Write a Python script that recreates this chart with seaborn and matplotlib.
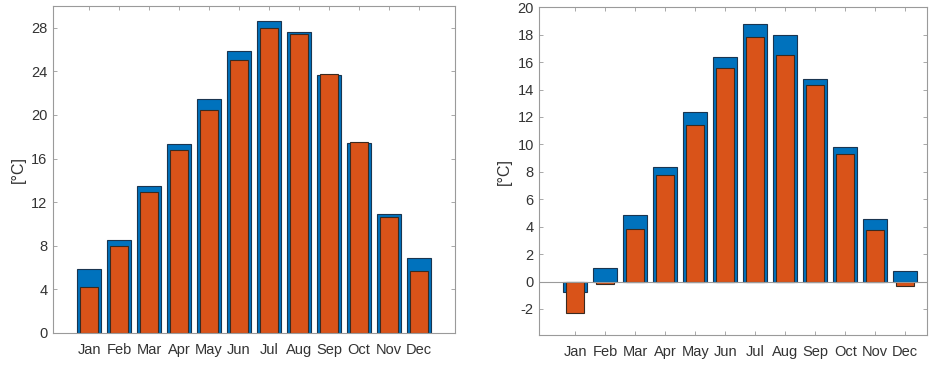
import matplotlib
matplotlib.use("Agg")
import matplotlib.pyplot as plt
import seaborn as sns
import pandas as pd

months = ["Jan", "Feb", "Mar", "Apr", "May", "Jun", "Jul", "Aug", "Sep", "Oct", "Nov", "Dec"]
left_blue = [5.9, 8.55, 13.45, 17.3, 21.5, 25.85, 28.6, 27.6, 23.7, 17.4, 10.9, 6.9]
left_orange = [4.2, 7.95, 12.95, 16.8, 20.5, 25.0, 27.95, 27.4, 23.8, 17.5, 10.6, 5.7]
right_blue = [-0.75, 0.95, 4.85, 8.35, 12.4, 16.35, 18.8, 18.0, 14.8, 9.8, 4.55, 0.8]
right_orange = [-2.3, -0.15, 3.8, 7.75, 11.4, 15.55, 17.8, 16.55, 14.3, 9.3, 3.75, -0.35]

BLUE = "#0072BD"
ORANGE = "#D95319"
AXC = "#9a9a9a"
TXT = "#333333"

sns.set_theme(style="white")
plt.rcParams["font.family"] = ["Liberation Sans", "DejaVu Sans"]
plt.rcParams["axes.unicode_minus"] = False

fig = plt.figure(figsize=(9.32, 3.65), dpi=100)
ax1 = fig.add_axes([0.0569, 0.0877, 0.4313, 0.8959])
ax2 = fig.add_axes([0.5787, 0.0822, 0.4157, 0.8978])


def draw(ax, blue, orange):
    dfb = pd.DataFrame({"month": months, "val": blue})
    dfo = pd.DataFrame({"month": months, "val": orange})
    sns.barplot(data=dfb, x="month", y="val", order=months, color=BLUE,
                saturation=1, width=0.8, edgecolor="#1a3550", linewidth=0.8,
                errorbar=None, ax=ax)
    sns.barplot(data=dfo, x="month", y="val", order=months, color=ORANGE,
                saturation=1, width=0.6, edgecolor="#3a2a20", linewidth=0.8,
                errorbar=None, ax=ax)
    ax.set_xlabel("")
    ax.set_ylabel("[°C]", fontsize=11.5, color=TXT)
    for s in ax.spines.values():
        s.set_visible(True)
        s.set_color(AXC)
        s.set_linewidth(0.8)
    ax.tick_params(axis="both", direction="in", length=3, width=0.6, color=AXC,
                   labelsize=10.5, labelcolor=TXT, top=True, right=True,
                   bottom=True, left=True, pad=4)
    ax.tick_params(axis="x", pad=7)


draw(ax1, left_blue, left_orange)
ax1.set_ylim(0, 30)
ax1.set_yticks(range(0, 29, 4))
ax1.set_xlim(-1.2, 12.2)
ax1.yaxis.labelpad = 4

draw(ax2, right_blue, right_orange)
ax2.set_ylim(-3.9, 20)
ax2.set_yticks(range(-2, 21, 2))
ax2.set_xlim(-1.2, 11.72)
ax2.axhline(0, color=AXC, linewidth=0.8, zorder=5)
ax2.yaxis.labelpad = 4

fig.savefig("out.png", dpi=100)
